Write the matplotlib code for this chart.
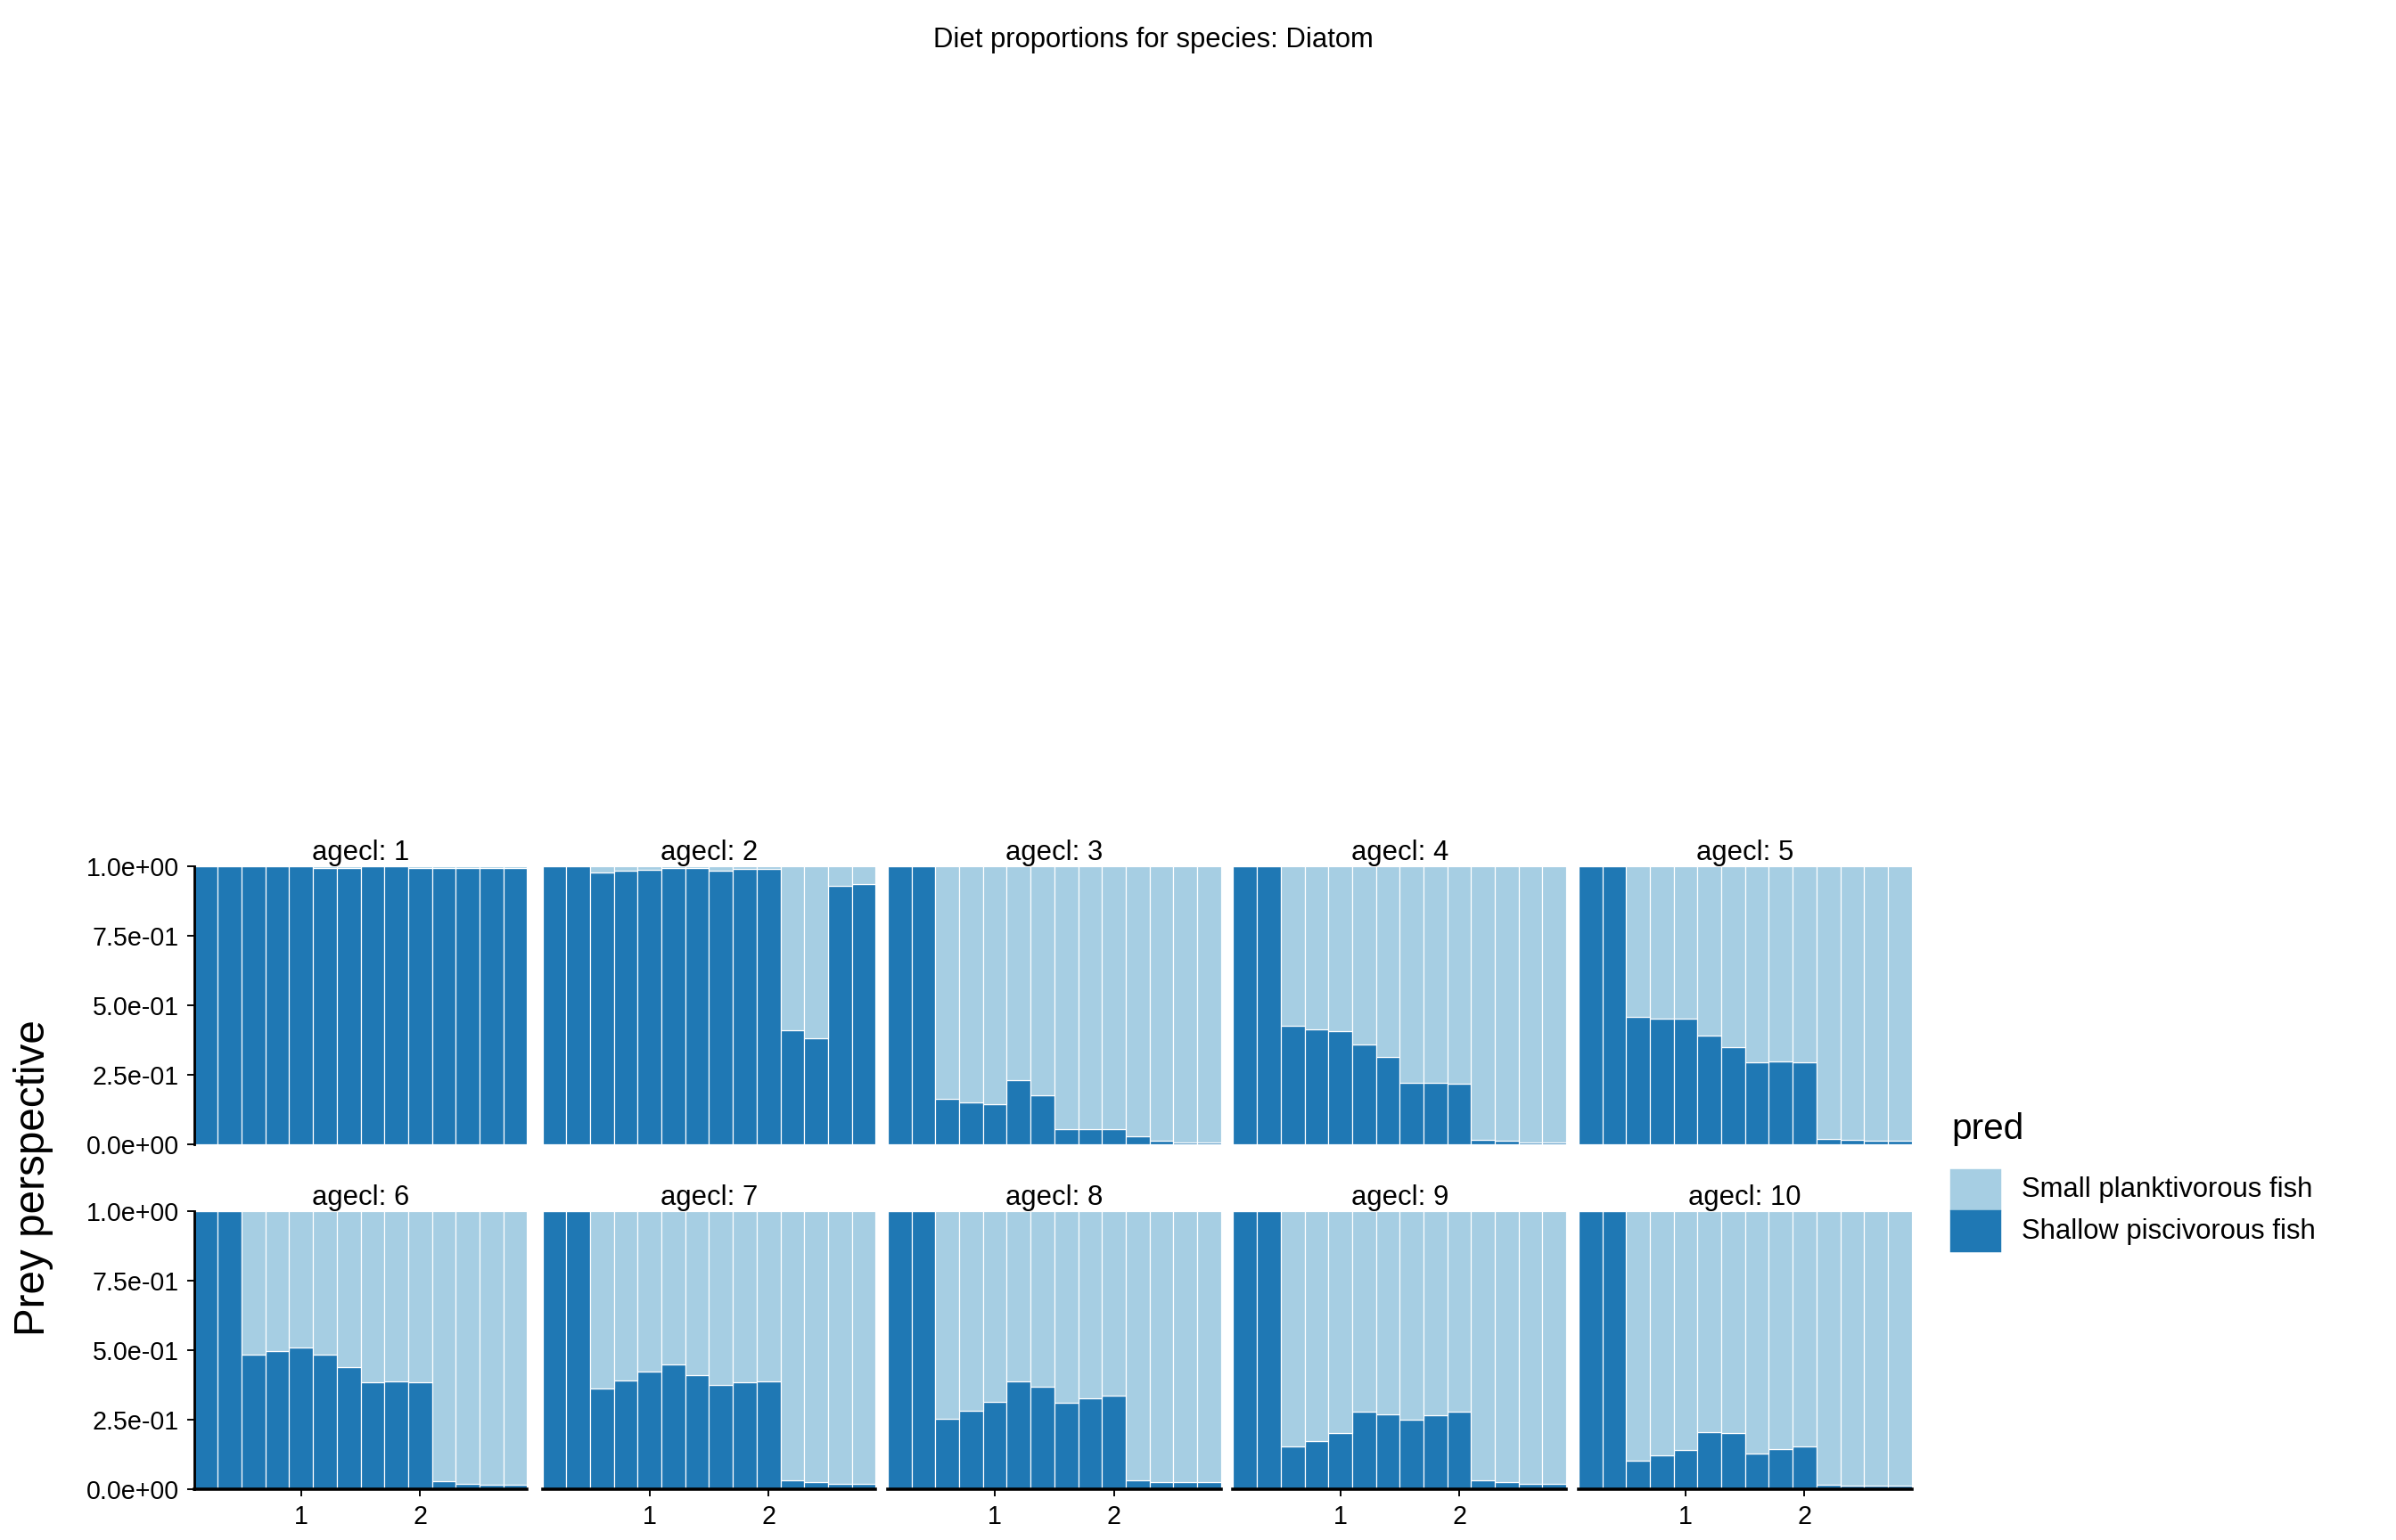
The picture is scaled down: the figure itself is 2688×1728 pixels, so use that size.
import matplotlib.pyplot as plt
import numpy as np

x = np.round(np.arange(0.2, 2.81, 0.2), 2)
# proportion of "Shallow piscivorous fish" per age class; rest is small planktivorous
shallow = {
    1: [1, 1, 1, 1, 1, 0.995, 0.995, 1, 1, 0.995, 0.995, 0.995, 0.995, 0.995],
    2: [1, 1, 0.977, 0.983, 0.987, 0.993, 0.993, 0.985, 0.99, 0.99, 0.41, 0.38, 0.93, 0.935],
    3: [1, 1, 0.165, 0.15, 0.145, 0.23, 0.175, 0.055, 0.053, 0.053, 0.028, 0.013, 0.005, 0.005],
    4: [1, 1, 0.425, 0.413, 0.407, 0.36, 0.315, 0.22, 0.22, 0.217, 0.016, 0.013, 0.006, 0.006],
    5: [1, 1, 0.458, 0.452, 0.452, 0.392, 0.35, 0.296, 0.299, 0.296, 0.019, 0.016, 0.012, 0.012],
    6: [1, 1, 0.484, 0.497, 0.510, 0.484, 0.439, 0.385, 0.390, 0.387, 0.029, 0.022, 0.019, 0.019],
    7: [1, 1, 0.363, 0.392, 0.424, 0.449, 0.413, 0.375, 0.385, 0.388, 0.035, 0.026, 0.022, 0.022],
    8: [1, 1, 0.253, 0.285, 0.317, 0.388, 0.369, 0.311, 0.327, 0.337, 0.035, 0.026, 0.026, 0.026],
    9: [1, 1, 0.154, 0.176, 0.202, 0.279, 0.269, 0.25, 0.266, 0.279, 0.032, 0.026, 0.022, 0.022],
    10: [1, 1, 0.103, 0.122, 0.141, 0.208, 0.202, 0.131, 0.144, 0.154, 0.016, 0.013, 0.013, 0.013],
}
dark = '#1f78b4'
light = '#a6cee3'

plt.rcParams['font.family'] = ['Liberation Sans', 'DejaVu Sans']
W, H = 1568, 1008
fig = plt.figure(figsize=(15.68, 10.08), dpi=171.43)

lefts = [127, 355, 581, 807, 1033]
pw = 218
tops = [567, 793]
ph = 182

for i, age in enumerate(range(1, 11)):
    r, c = divmod(i, 5)
    ax = fig.add_axes([lefts[c] / W, 1 - (tops[r] + ph) / H, pw / W, ph / H])
    s = np.array(shallow[age])
    ax.bar(x, s, width=0.2, color=dark, edgecolor='white', linewidth=0.5)
    ax.bar(x, 1 - s, bottom=s, width=0.2, color=light, edgecolor='white', linewidth=0.5)
    ax.set_xlim(0.1, 2.9)
    ax.set_ylim(0, 1)
    for sp in ['top', 'right']:
        ax.spines[sp].set_visible(False)
    ax.set_title(f'agecl: {age}', fontsize=13, pad=3)
    ax.set_yticks([0, 0.25, 0.5, 0.75, 1.0])
    if c == 0:
        ax.set_yticklabels(['0.0e+00', '2.5e-01', '5.0e-01', '7.5e-01', '1.0e+00'], fontsize=12)
        ax.spines['left'].set_linewidth(1.2)
    else:
        ax.spines['left'].set_visible(False)
        ax.tick_params(axis='y', left=False, labelleft=False)
    ax.set_xticks([1, 2])
    if r == 1:
        ax.set_xticklabels(['1', '2'], fontsize=12)
        ax.spines['bottom'].set_linewidth(1.5)
    else:
        ax.spines['bottom'].set_visible(False)
        ax.tick_params(axis='x', bottom=False, labelbottom=False)

fig.text(611 / W, 1 - 26 / H, 'Diet proportions for species: Diatom', fontsize=13, va='center')
fig.text(22 / W, 1 - 771 / H, 'Prey perspective', fontsize=20, rotation=90, va='center', ha='center')

fig.text(1277 / W, 1 - 739 / H, 'pred', fontsize=17, va='center')
for yy, col, lab in [(779, light, 'Small planktivorous fish'), (806, dark, 'Shallow piscivorous fish')]:
    fig.patches.append(plt.Rectangle((1277 / W, 1 - (yy + 13) / H), 32 / W, 26 / H,
                                     transform=fig.transFigure, color=col))
    fig.text(1323 / W, 1 - yy / H, lab, fontsize=13, va='center')

fig.savefig('out.png', dpi=171.43)
